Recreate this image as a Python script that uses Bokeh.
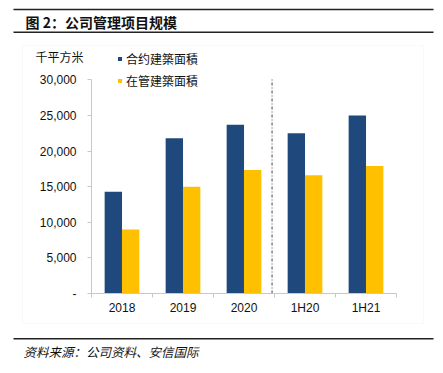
from bokeh.plotting import figure
from bokeh.models import (Range1d, LinearAxis, FixedTicker, NumeralTickFormatter, Label,
                          BoxAnnotation, Legend, LegendItem)
from bokeh.transform import dodge
from bokeh.embed import file_html
from bokeh.resources import INLINE

# ---- data ----
categories = ["2018", "2019", "2020", "1H20", "1H21"]
contracted_gfa = [14300, 21800, 23700, 22500, 25000]   # 合约建築面積
managed_gfa = [9000, 15000, 17350, 16600, 17900]        # 在管建築面積
y_ticks = [0, 5000, 10000, 15000, 20000, 25000, 30000]
series_names = ["合约建築面積", "在管建築面積"]
title_text = "图 2：公司管理项目规模"
unit_text = "千平方米"
source_text = "资料来源：公司资料、安信国际"

NAVY = "#1F497D"
GOLD = "#FFC000"
AXIS_GREY = "#c8c8c8"
TEXT = "#111111"

# ---- page geometry (pixels) ----
W, H = 443, 373
PLOT_L, PLOT_R = 91.0, 396.0      # x-extent of the category area
Y0_PX, YTOP_PX = 293.0, 79.3      # pixel rows of y=0 and y=30000
Y_MAX = 30000

n = len(categories)
positions = list(range(n))
edges = [i - 0.5 for i in range(n + 1)]
slot_px = (PLOT_R - PLOT_L) / n
x_start = -0.5 - PLOT_L / slot_px
x_end = n - 0.5 + (W - PLOT_R) / slot_px
u_per_px = Y_MAX / (Y0_PX - YTOP_PX)
y_start = -(H - Y0_PX) * u_per_px
y_end = Y_MAX + YTOP_PX * u_per_px


def sx(px):
    return px


def sy(py):
    return H - py


p = figure(width=W, height=H,
           x_range=Range1d(x_start, x_end), y_range=Range1d(y_start, y_end),
           output_backend="svg", toolbar_location=None,
           x_axis_location=None, y_axis_location=None,
           min_border_left=0, min_border_right=0, min_border_top=0, min_border_bottom=0,
           outline_line_color=None, background_fill_color="white",
           border_fill_color="white")
p.grid.grid_line_color = None

source = dict(x=positions, a=contracted_gfa, b=managed_gfa)
r1 = p.vbar(x=dodge("x", -0.142), top="a", width=0.285,
            source=source, fill_color=NAVY, line_color=None)
r2 = p.vbar(x=dodge("x", 0.142), top="b", width=0.285,
            source=source, fill_color=GOLD, line_color=None)

# y axis, pinned at the left edge of the category area
ya = LinearAxis(fixed_location=-0.5, bounds=(0, Y_MAX),
                ticker=FixedTicker(ticks=y_ticks),
                formatter=NumeralTickFormatter(format="0,0"),
                major_label_overrides={0: "-"},
                axis_line_color=AXIS_GREY, major_tick_line_color=AXIS_GREY,
                major_tick_in=0, major_tick_out=4, minor_tick_line_color=None,
                major_label_standoff=11,
                major_label_text_font="Liberation Sans",
                major_label_text_font_size="12px",
                major_label_text_color=TEXT)
p.add_layout(ya, "left")

# x axis: tick marks at slot edges (no labels) + category labels (no ticks)
edge_axis = LinearAxis(fixed_location=0, bounds=(edges[0], edges[-1]),
                       ticker=FixedTicker(ticks=edges),
                       major_label_text_color=None,
                       major_label_text_font_size="1px", major_label_standoff=0,
                       axis_line_color=AXIS_GREY, major_tick_line_color=AXIS_GREY,
                       major_tick_in=0, major_tick_out=4, minor_tick_line_color=None)
p.add_layout(edge_axis, "below")
cat_axis = LinearAxis(fixed_location=0, bounds=(edges[0], edges[-1]),
                      ticker=FixedTicker(ticks=positions),
                      major_label_overrides={i: c for i, c in zip(positions, categories)},
                      axis_line_color=None, major_tick_line_color=None,
                      minor_tick_line_color=None, major_label_standoff=1,
                      major_label_text_font="Liberation Sans",
                      major_label_text_font_size="12px",
                      major_label_text_color=TEXT)
p.add_layout(cat_axis, "below")

# divider between annual and half-year data
p.segment(x0=[2.46], x1=[2.46], y0=[0], y1=[30300],
          line_color="#404040", line_width=1, line_dash="3 2 1 2")

# legend
legend = Legend(items=[LegendItem(label=series_names[0], renderers=[r1]),
                       LegendItem(label=series_names[1], renderers=[r2])],
                location=(sx(117), sy(90)), orientation="vertical",
                padding=0, margin=0, spacing=2, border_line_color=None,
                background_fill_alpha=0, glyph_width=5, glyph_height=5,
                label_standoff=4, label_height=20,
                label_text_font="Noto Sans CJK TC", label_text_font_size="12px",
                label_text_color=TEXT)
p.add_layout(legend, "center")

# unit label
p.add_layout(Label(x=sx(35), y=sy(56), x_units="screen", y_units="screen",
                   text=unit_text, text_font="Noto Sans CJK TC",
                   text_font_size="12px", text_baseline="middle", text_align="left",
                   text_color=TEXT))

# title and rules
p.add_layout(Label(x=sx(25), y=sy(21), x_units="screen", y_units="screen",
                   text=title_text, text_font="Noto Sans CJK SC",
                   text_font_size="14px", text_font_style="bold",
                   text_baseline="middle", text_align="left", text_color=TEXT))
for top_y in (8.3, 31.0, 337.6):
    p.add_layout(BoxAnnotation(left=sx(13), right=sx(433), top=sy(top_y), bottom=sy(top_y + 1.4),
                               left_units="screen", right_units="screen",
                               top_units="screen", bottom_units="screen",
                               fill_color="#222222", fill_alpha=1, line_color=None))

# faint chart border
p.add_layout(BoxAnnotation(left=sx(22), right=sx(423), top=sy(45), bottom=sy(323),
                           left_units="screen", right_units="screen",
                           top_units="screen", bottom_units="screen",
                           fill_alpha=0, line_color="#ececec", line_width=1))

# source
p.add_layout(Label(x=sx(23), y=sy(350.5), x_units="screen", y_units="screen",
                   text=source_text, text_font="Noto Sans CJK SC",
                   text_font_size="12.5px", text_font_style="italic",
                   text_baseline="middle", text_align="left", text_color=TEXT))

open("out.html", "w").write(file_html(p, INLINE))
